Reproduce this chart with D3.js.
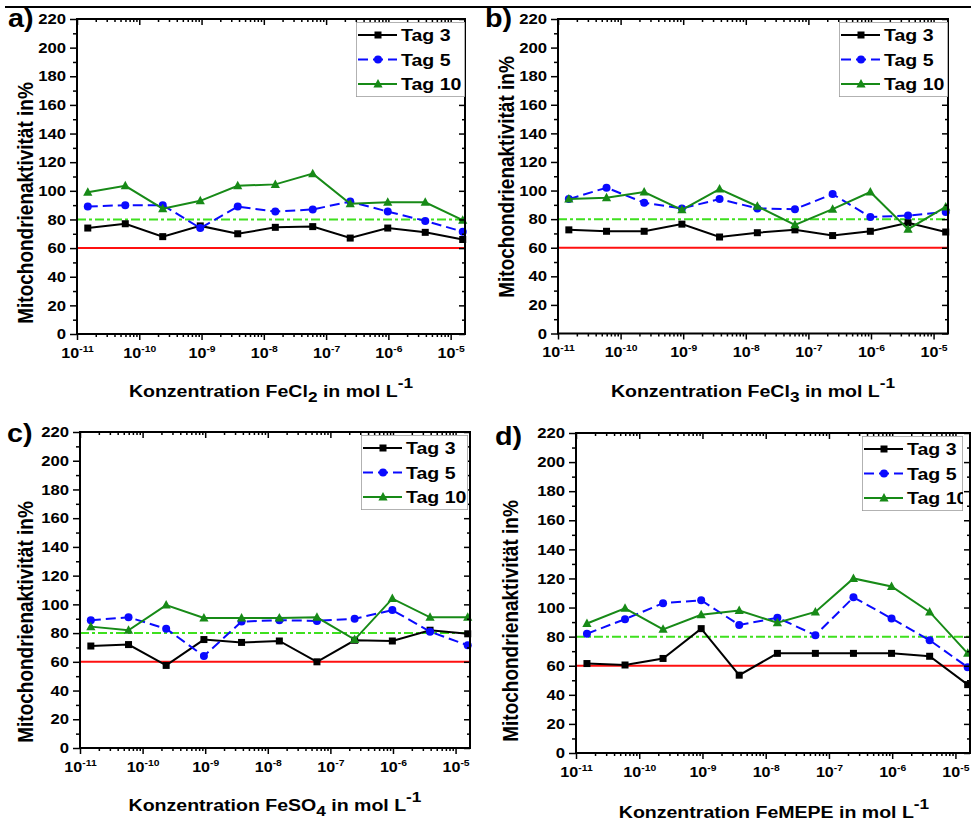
<!DOCTYPE html>
<html>
<head>
<meta charset="utf-8">
<script src="https://cdn.jsdelivr.net/npm/d3@7"></script>
<style>
  body { margin: 0; background: #fff; }
  svg { display: block; font-family: "Liberation Sans", Arial, sans-serif; font-weight: bold; }
</style>
</head>
<body>
<svg width="971" height="823"></svg>
<script>
// concentrations (mol/L), 4-fold dilution series
const conc = [1.49e-11, 5.96e-11, 2.38e-10, 9.54e-10, 3.81e-9, 1.53e-8, 6.10e-8, 2.44e-7, 9.77e-7, 3.91e-6, 1.5625e-5];
const seriesNames = ["Tag 3", "Tag 5", "Tag 10"];
const yTickValues = [0, 20, 40, 60, 80, 100, 120, 140, 160, 180, 200, 220];
const xTickExps = [-11, -10, -9, -8, -7, -6, -5];
const refRed = 60;
const refGreen = 80;

// a) FeCl2
const fecl2Tag3 = [74, 77, 68, 75.5, 70, 74.5, 75, 67, 74, 71, 66];
const fecl2Tag5 = [89, 90, 90, 74, 89, 85.5, 87, 92.5, 85.5, 79, 71.5];
const fecl2Tag10 = [99, 103.5, 87.5, 93, 103.5, 104.5, 112, 91, 92, 92, 79.5];
// b) FeCl3
const fecl3Tag3 = [72.5, 71.5, 71.5, 76.5, 67.5, 70.5, 72.5, 68.5, 71.5, 77.5, 71];
const fecl3Tag5 = [94, 102, 91.5, 87.5, 94, 87.5, 87, 97.5, 81.5, 82.5, 85];
const fecl3Tag10 = [94, 95, 99, 86.5, 101, 89, 76, 87, 99, 73, 88.5];
// c) FeSO4
const feso4Tag3 = [71, 72, 57.5, 75.5, 73.5, 74.5, 60, 75, 74.5, 82, 79.5];
const feso4Tag5 = [89, 91, 83, 64, 88, 89, 88.5, 90, 96, 81, 71.5];
const feso4Tag10 = [84.5, 82, 99.5, 90.5, 90.5, 90.5, 91, 75.5, 104, 91, 91];
// d) FeMEPE
const fempeTag3 = [61.5, 60.5, 65, 85.5, 53.5, 68.5, 68.5, 68.5, 68.5, 66.5, 47];
const fempeTag5 = [82, 92, 103, 105, 88, 93, 81, 107, 92.5, 77.5, 59];
const fempeTag10 = [89, 99.5, 85, 95, 98, 89.5, 97, 120, 114.5, 97, 68.5];

const colors = ["#000000", "#0a0aff", "#178a17"];
const sx = 1.15; // the reference text is slightly stretched horizontally

const svg = d3.select('svg');

const panels = [
    { label: "a)", lx: 8, ly: 27, chem: "FeCl", sub: "2", data: [fecl2Tag3, fecl2Tag5, fecl2Tag10],
      x0: 77, x1: 465, y0: 19, y1: 334, yTitle: [33, 203], xTitle: [271, 397], legend: [356, 465] },
    { label: "b)", lx: 485, ly: 27, chem: "FeCl", sub: "3", data: [fecl3Tag3, fecl3Tag5, fecl3Tag10],
      x0: 558, x1: 948, y0: 19, y1: 333.5, yTitle: [514, 177], xTitle: [753, 397], legend: [839, 948] },
    { label: "c)", lx: 7, ly: 442, chem: "FeSO", sub: "4", data: [feso4Tag3, feso4Tag5, feso4Tag10],
      x0: 80, x1: 470, y0: 432, y1: 748, yTitle: [33, 622], xTitle: [275, 811], legend: [361, 468] },
    { label: "d)", lx: 495, ly: 445, chem: "FeMEPE", sub: "", data: [fempeTag3, fempeTag5, fempeTag10],
      x0: 576, x1: 970, y0: 433, y1: 753, yTitle: [518, 621], xTitle: [774, 818], legend: [862, 963] }
];

// rule across the top
svg.append('line')
    .attr('x1', 5).attr('x2', 971)
    .attr('y1', 7).attr('y2', 7)
    .attr('stroke', '#000').attr('stroke-width', 2);

const marker = (sel, i, cx, cy) => {
    if (i === 0) {
        sel.append('rect').attr('x', cx - 3.5).attr('y', cy - 3.5)
            .attr('width', 7).attr('height', 7).attr('fill', colors[i]);
    } else if (i === 1) {
        sel.append('circle').attr('cx', cx).attr('cy', cy).attr('r', 4).attr('fill', colors[i]);
    } else {
        sel.append('path')
            .attr('d', `M${cx},${cy - 5}L${cx + 4.6},${cy + 3.5}L${cx - 4.6},${cy + 3.5}Z`)
            .attr('fill', colors[i]);
    }
};

const render = (p, pi) => {
    const xScale = d3.scaleLog()
        .domain([1e-11, 1.7e-5])
        .range([p.x0, p.x1]);
    const yScale = d3.scaleLinear()
        .domain([0, 220])
        .range([p.y1, p.y0]);

    const g = svg.append('g');

    // reference lines
    g.append('line')
        .attr('x1', p.x0).attr('x2', p.x1)
        .attr('y1', yScale(refRed)).attr('y2', yScale(refRed))
        .attr('stroke', '#ff1010').attr('stroke-width', 2);
    g.append('line')
        .attr('x1', p.x0).attr('x2', p.x1)
        .attr('y1', yScale(refGreen)).attr('y2', yScale(refGreen))
        .attr('stroke', '#3ee01e').attr('stroke-width', 2)
        .attr('stroke-dasharray', '9,3,3,3');

    // series
    const line = d3.line()
        .x(d => xScale(d[0]))
        .y(d => yScale(d[1]));
    p.data.forEach((vals, i) => {
        const pts = conc.map((c, j) => [c, vals[j]]);
        g.append('path')
            .attr('d', line(pts))
            .attr('fill', 'none')
            .attr('stroke', colors[i])
            .attr('stroke-width', 2)
            .attr('stroke-dasharray', i === 1 ? '10,5' : null);
        const mg = g.append('g');
        pts.forEach(d => marker(mg, i, xScale(d[0]), yScale(d[1])));
    });

    // axes
    const majorX = xTickExps.map(e => Math.pow(10, e));
    const minorX = xScale.ticks().filter(v => !majorX.some(m => Math.abs(v / m - 1) < 1e-6));
    const minorY = d3.range(10, 220, 20);

    const styleAxis = sel => {
        sel.attr('font-family', null).attr('font-size', null);
        sel.select('.domain').remove();
        sel.selectAll('.tick line').attr('stroke', '#000').attr('stroke-width', 1.5);
    };

    const xBottom = g.append('g')
        .attr('transform', `translate(0,${p.y1})`)
        .call(d3.axisBottom(xScale).tickValues(majorX).tickSize(6).tickFormat(() => ''))
        .call(styleAxis);
    xBottom.selectAll('.tick text')
        .attr('y', 24).attr('dy', null)
        .attr('font-size', 14).attr('fill', '#000')
        .attr('transform', `scale(${sx},1)`)
        .each(function (d) {
            const t = d3.select(this);
            t.append('tspan').text('10');
            t.append('tspan').attr('font-size', 9).attr('dy', -6).text(Math.round(Math.log10(d)));
        });
    g.append('g')
        .attr('transform', `translate(0,${p.y1})`)
        .call(d3.axisBottom(xScale).tickValues(minorX).tickSize(3).tickFormat(''))
        .call(styleAxis);
    g.append('g')
        .attr('transform', `translate(0,${p.y0})`)
        .call(d3.axisTop(xScale).tickValues(majorX).tickSize(-6).tickFormat(''))
        .call(styleAxis);
    g.append('g')
        .attr('transform', `translate(0,${p.y0})`)
        .call(d3.axisTop(xScale).tickValues(minorX).tickSize(-3).tickFormat(''))
        .call(styleAxis);

    const yLeft = g.append('g')
        .attr('transform', `translate(${p.x0},0)`)
        .call(d3.axisLeft(yScale).tickValues(yTickValues).tickSize(7))
        .call(styleAxis);
    yLeft.selectAll('.tick text')
        .attr('x', -11 / sx)
        .attr('font-size', 14.5).attr('fill', '#000')
        .attr('transform', `scale(${sx},1)`);
    g.append('g')
        .attr('transform', `translate(${p.x0},0)`)
        .call(d3.axisLeft(yScale).tickValues(minorY).tickSize(4).tickFormat(''))
        .call(styleAxis);
    g.append('g')
        .attr('transform', `translate(${p.x1},0)`)
        .call(d3.axisRight(yScale).tickValues(yTickValues).tickSize(-6).tickFormat(''))
        .call(styleAxis);
    g.append('g')
        .attr('transform', `translate(${p.x1},0)`)
        .call(d3.axisRight(yScale).tickValues(minorY).tickSize(-3).tickFormat(''))
        .call(styleAxis);

    // frame
    g.append('rect')
        .attr('x', p.x0).attr('y', p.y0)
        .attr('width', p.x1 - p.x0).attr('height', p.y1 - p.y0)
        .attr('fill', 'none').attr('stroke', '#000').attr('stroke-width', 2);

    // legend
    const lx = p.legend[0], lw = p.legend[1] - p.legend[0];
    const ly = p.y0 + 3, lh = 75;
    const clipId = `legclip${pi}`;
    g.append('clipPath').attr('id', clipId)
        .append('rect').attr('x', lx).attr('y', ly).attr('width', lw).attr('height', lh);
    const leg = g.append('g').attr('clip-path', `url(#${clipId})`);
    leg.append('rect')
        .attr('x', lx).attr('y', ly).attr('width', lw).attr('height', lh)
        .attr('fill', '#fff').attr('stroke', '#999').attr('stroke-width', 1.5);
    seriesNames.forEach((name, i) => {
        const cy = ly + 13 + i * 24.5;
        leg.append('line')
            .attr('x1', lx + 2).attr('x2', lx + 41)
            .attr('y1', cy).attr('y2', cy)
            .attr('stroke', colors[i]).attr('stroke-width', 2)
            .attr('stroke-dasharray', i === 1 ? '10,5' : null);
        marker(leg, i, lx + 22, cy);
        leg.append('text')
            .attr('transform', `translate(${lx + 45},${cy + 6}) scale(${sx},1)`)
            .attr('font-size', 17)
            .text(name);
    });

    // titles
    svg.append('text')
        .attr('transform', `translate(${p.yTitle[0]},${p.yTitle[1]}) scale(1.2,1) rotate(-90)`)
        .attr('text-anchor', 'middle')
        .attr('font-size', 19)
        .text('Mitochondrienaktivität in%');

    const xt = svg.append('text')
        .attr('transform', `translate(${p.xTitle[0]},${p.xTitle[1]}) scale(${sx},1)`)
        .attr('text-anchor', 'middle')
        .attr('font-size', 17);
    xt.append('tspan').text(`Konzentration ${p.chem}`);
    if (p.sub) {
        xt.append('tspan').attr('font-size', 15).attr('dy', 5).text(p.sub);
        xt.append('tspan').attr('dy', -5).text(' in mol L');
    } else {
        xt.append('tspan').text(' in mol L');
    }
    xt.append('tspan').attr('font-size', 15).attr('dy', -9).text('-1');

    svg.append('text')
        .attr('transform', `translate(${p.lx},${p.ly}) scale(${sx},1)`)
        .attr('font-size', 25)
        .text(p.label);
};

panels.forEach(render);
</script>
</body>
</html>
